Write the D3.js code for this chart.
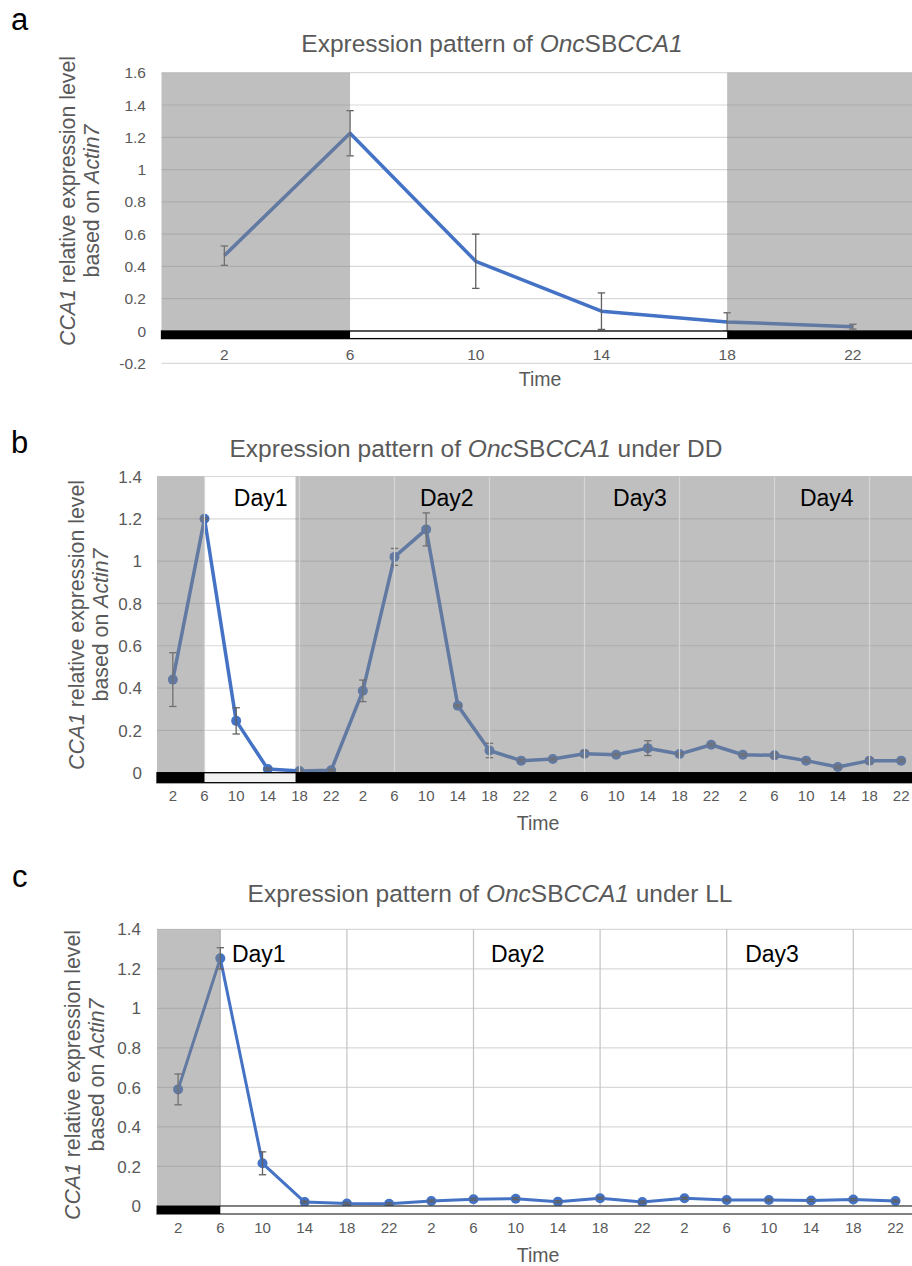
<!DOCTYPE html>
<html><head><meta charset="utf-8">
<script src="https://cdn.jsdelivr.net/npm/d3@7"></script>
<style>
html,body{margin:0;padding:0;background:#fff;}
svg{display:block;font-family:"Liberation Sans",Arial,sans-serif;}
</style></head>
<body><svg id="chart" width="912" height="1266"></svg>
<script>
// ---------- DATA ----------
const hoursA = ["2","6","10","14","18","22"];
const valuesA = [0.467, 1.225, 0.432, 0.123, 0.056, 0.027];
const errorsA = [0.06, 0.14, 0.168, 0.113, 0.057, 0.015];
const darkA = [[0, 6], [18, 24]];           // dark periods (hours)

const hoursB = ["2","6","10","14","18","22","2","6","10","14","18","22",
                "2","6","10","14","18","22","2","6","10","14","18","22"];
const valuesB = [0.44, 1.20, 0.245, 0.017, 0.008, 0.011,
                 0.387, 1.02, 1.15, 0.317, 0.105, 0.057,
                 0.065, 0.09, 0.085, 0.116, 0.088, 0.132,
                 0.085, 0.082, 0.057, 0.027, 0.057, 0.057];
const errorsB = [0.127, 0.005, 0.062, 0.005, 0.005, 0.005,
                 0.051, 0.04, 0.078, 0.005, 0.034, 0.005,
                 0.005, 0.012, 0.005, 0.035, 0.005, 0.005,
                 0.005, 0.01, 0.005, 0.005, 0.01, 0.005];
const darkB = [[0, 6], [17.5, 96]];
const daysB = ["Day1", "Day2", "Day3", "Day4"];
const dayHoursB = [13.1, 36.6, 61.0, 84.6];

const hoursC = ["2","6","10","14","18","22","2","6","10","14","18","22",
                "2","6","10","14","18","22"];
const valuesC = [0.59, 1.253, 0.216, 0.02, 0.013, 0.011,
                 0.025, 0.034, 0.037, 0.022, 0.039, 0.02,
                 0.039, 0.03, 0.03, 0.028, 0.033, 0.025];
const errorsC = [0.078, 0.054, 0.058, 0.005, 0.005, 0.005,
                 0.005, 0.005, 0.005, 0.005, 0.005, 0.005,
                 0.005, 0.005, 0.005, 0.005, 0.005, 0.005];
const darkC = [[0, 6]];
const daysC = ["Day1", "Day2", "Day3"];
const dayHoursC = [9.65, 34.2, 58.3];

// ---------- DRAW ----------
const svg = d3.select("#chart");
const BLUE = "#4472C4", TXT = "#595959", GRID = "#d9d9d9";

function title(g, x, y, parts) {
  const t = g.append("text").attr("x", x).attr("y", y).attr("text-anchor", "middle")
    .attr("font-size", 24.5).attr("fill", TXT);
  parts.forEach(p => t.append("tspan").text(p[0]).attr("font-style", p[1] ? "italic" : "normal"));
}

function panel(o) {
  const g = svg.append("g");
  const n = o.hours.length;
  const x = d3.scaleLinear().domain([0, n * 4]).range([o.left, o.right]);
  const y = d3.scaleLinear().domain(o.yDomain).range(o.yRange);
  const hr = i => 2 + 4 * i;
  const ticks = d3.range(o.yDomain[0], o.yDomain[1] + 0.001, 0.2).map(v => +v.toFixed(1));

  g.append("text").attr("x", o.letterX).attr("y", o.letterY).attr("font-size", 31).attr("fill", "#000").text(o.letter);
  title(g, o.titleX, o.titleY, o.title);

  g.selectAll(".hg").data(ticks).join("line")
    .attr("x1", o.left).attr("x2", o.right)
    .attr("y1", d => y(d)).attr("y2", d => y(d))
    .attr("stroke", GRID).attr("stroke-width", 1.2);

  if (o.vgrid) {
    g.selectAll(".vg").data(o.vgrid).join("line")
      .attr("x1", d => x(d)).attr("x2", d => x(d))
      .attr("y1", y(o.yDomain[1])).attr("y2", y(0))
      .attr("stroke", o.vgridColor).attr("stroke-width", 1.2);
  }

  const line = d3.line().x((d, i) => x(hr(i))).y(d => y(d));
  g.append("path").datum(o.values).attr("d", line).attr("fill", "none")
    .attr("stroke", BLUE).attr("stroke-width", o.lw).attr("stroke-linejoin", "round");
  if (o.markers) {
    g.selectAll(".mk").data(o.values).join("circle")
      .attr("cx", (d, i) => x(hr(i))).attr("cy", d => y(d)).attr("r", 5).attr("fill", BLUE);
  }
  const eb = g.selectAll(".eb").data(o.values.map((v, i) => ({v, e: o.errors[i], i}))).join("g")
    .attr("stroke", "#606060").attr("stroke-width", 1.3).attr("fill", "none");
  eb.append("line").attr("x1", d => x(hr(d.i))).attr("x2", d => x(hr(d.i)))
    .attr("y1", d => y(d.v - d.e)).attr("y2", d => y(d.v + d.e));
  eb.append("line").attr("x1", d => x(hr(d.i)) - 3.7).attr("x2", d => x(hr(d.i)) + 3.7)
    .attr("y1", d => y(d.v - d.e)).attr("y2", d => y(d.v - d.e));
  eb.append("line").attr("x1", d => x(hr(d.i)) - 3.7).attr("x2", d => x(hr(d.i)) + 3.7)
    .attr("y1", d => y(d.v + d.e)).attr("y2", d => y(d.v + d.e));

  g.selectAll(".dk").data(o.dark).join("rect")
    .attr("x", d => x(d[0])).attr("width", d => x(d[1]) - x(d[0]))
    .attr("y", y(o.yDomain[1])).attr("height", y(0) - y(o.yDomain[1]))
    .attr("fill", "rgb(128,128,128)").attr("fill-opacity", 0.5);

  if (o.vgridTop) {
    g.selectAll(".vgt").data(o.vgridTop).join("line")
      .attr("x1", d => x(d)).attr("x2", d => x(d))
      .attr("y1", y(o.yDomain[1])).attr("y2", y(0))
      .attr("stroke", "#d6d6d6").attr("stroke-width", 1.2);
  }

  if (o.days) {
    g.selectAll(".day").data(o.days).join("text")
      .attr("x", (d, i) => x(o.dayHours[i])).attr("y", o.dayY)
      .attr("text-anchor", "middle").attr("font-size", 23).attr("fill", "#000").text(d => d);
  }

  const y0 = y(0);
  g.append("rect").attr("x", o.left).attr("y", y0).attr("width", o.right - o.left).attr("height", o.barH)
    .attr("fill", o.lightFill).attr("stroke", o.barStroke).attr("stroke-width", 1.3);
  g.selectAll(".bk").data(o.dark).join("rect")
    .attr("x", d => x(d[0])).attr("width", d => x(d[1]) - x(d[0]))
    .attr("y", y0).attr("height", o.barH).attr("fill", "#000");

  g.selectAll(".yt").data(ticks).join("text")
    .attr("x", o.yTickX).attr("y", d => y(d)).attr("dy", "0.36em")
    .attr("text-anchor", "end").attr("font-size", o.yTickSize).attr("fill", TXT)
    .text(d => String(d));
  g.selectAll(".xt").data(o.hours).join("text")
    .attr("x", (d, i) => x(hr(i))).attr("y", o.xTickY).attr("dy", "0.36em")
    .attr("text-anchor", "middle").attr("font-size", o.xTickSize).attr("fill", TXT).text(d => d);
  g.append("text").attr("x", o.timeX).attr("y", o.timeY).attr("dy", "0.36em")
    .attr("text-anchor", "middle").attr("font-size", 19.5).attr("fill", TXT).text("Time");

  const yt = g.append("g").attr("transform", `translate(0,${o.yTitleCY}) rotate(-90)`);
  const l1 = yt.append("text").attr("x", 0).attr("y", o.yTitleX1).attr("text-anchor", "middle")
    .attr("font-size", 21.3).attr("fill", TXT);
  l1.append("tspan").attr("font-style", "italic").text("CCA1");
  l1.append("tspan").text(" relative expression level");
  const l2 = yt.append("text").attr("x", 0).attr("y", o.yTitleX2).attr("text-anchor", "middle")
    .attr("font-size", 21.3).attr("fill", TXT);
  l2.append("tspan").text("based on ");
  l2.append("tspan").attr("font-style", "italic").text("Actin7");
}

panel({
  letter: "a", letterX: 11, letterY: 30,
  title: [["Expression pattern of ", false], ["Onc", true], ["SB", false], ["CCA1", true]],
  titleX: 492, titleY: 51.5,
  hours: hoursA, values: valuesA, errors: errorsA, dark: darkA,
  left: 161.5, right: 915.7, yDomain: [-0.2, 1.6], yRange: [363.3, 72.7],
  lw: 3.5, markers: false, barH: 7.6, lightFill: "#fff", barStroke: "#000",
  yTickX: 146, yTickSize: 15.5, xTickY: 354, xTickSize: 15.5,
  timeX: 540, timeY: 379,
  yTitleCY: 201, yTitleX1: 75, yTitleX2: 99
});

panel({
  letter: "b", letterX: 11, letterY: 453,
  title: [["Expression pattern of ", false], ["Onc", true], ["SB", false], ["CCA1", true], [" under DD", false]],
  titleX: 476, titleY: 457,
  hours: hoursB, values: valuesB, errors: errorsB, dark: darkB,
  vgridTop: d3.range(6, 96, 12),
  days: daysB, dayHours: dayHoursB, dayY: 506,
  left: 157, right: 917, yDomain: [0, 1.4], yRange: [772.7, 476.5],
  lw: 3.5, markers: true, barH: 10, lightFill: "#f2f2f2", barStroke: "#000",
  yTickX: 142, yTickSize: 17, xTickY: 796, xTickSize: 15,
  timeX: 538, timeY: 823,
  yTitleCY: 625, yTitleX1: 84, yTitleX2: 108
});

panel({
  letter: "c", letterX: 12, letterY: 887,
  title: [["Expression pattern of ", false], ["Onc", true], ["SB", false], ["CCA1", true], [" under LL", false]],
  titleX: 490, titleY: 902,
  hours: hoursC, values: valuesC, errors: errorsC, dark: darkC,
  vgrid: d3.range(6, 72, 12), vgridColor: "#c4c4c4",
  days: daysC, dayHours: dayHoursC, dayY: 962,
  left: 157, right: 916.6, yDomain: [0, 1.4], yRange: [1206, 929.3],
  lw: 3, markers: true, barH: 8, lightFill: "#fff", barStroke: "#404040",
  yTickX: 141, yTickSize: 17, xTickY: 1228, xTickSize: 15,
  timeX: 538, timeY: 1255,
  yTitleCY: 1075, yTitleX1: 80, yTitleX2: 104
});
</script></body></html>
